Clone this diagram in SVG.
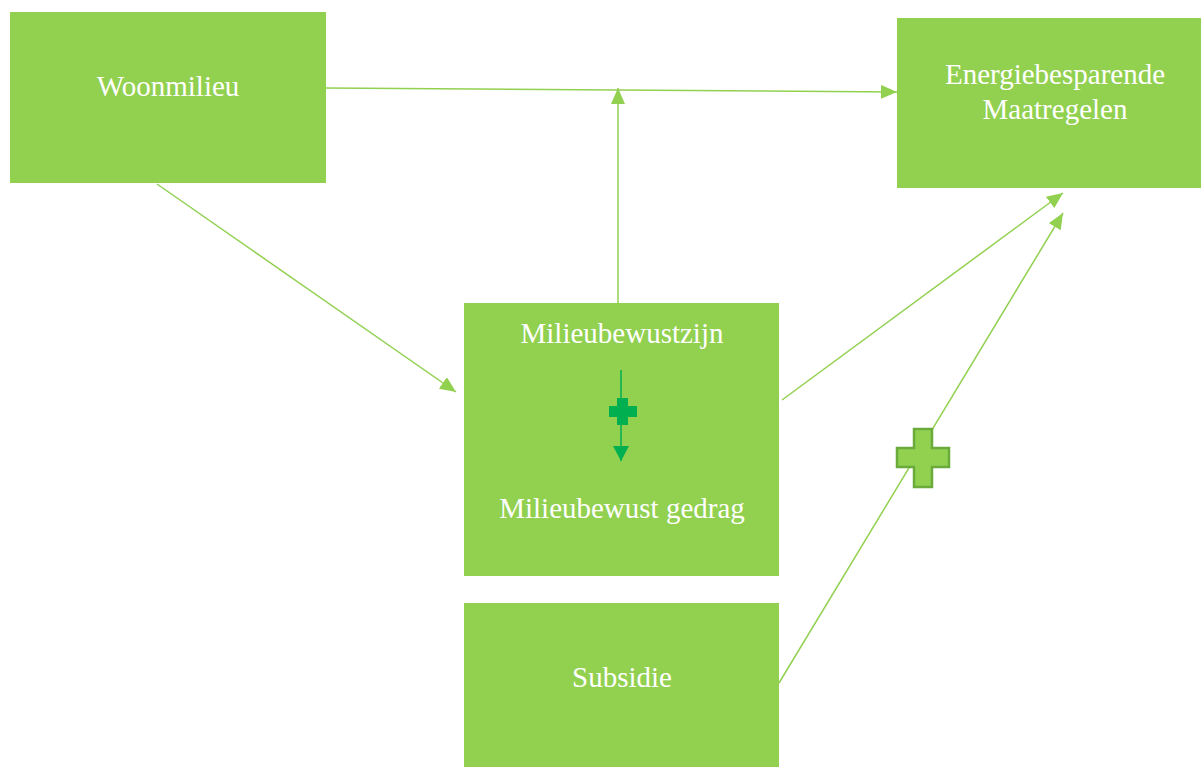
<svg xmlns="http://www.w3.org/2000/svg" width="1201" height="767" viewBox="0 0 1201 767">
<style>
.box{fill:#92D050}
.t{font-family:"Liberation Serif",serif;font-size:29px;fill:#fff;text-anchor:middle}
.c{stroke:#92D050;stroke-width:1.5;fill:none;marker-end:url(#ah)}
</style>
<defs>
<marker id="ah" markerUnits="userSpaceOnUse" markerWidth="18" markerHeight="14" refX="16" refY="7" orient="auto"><path d="M0,0 L16,7 L0,14 Z" fill="#92D050"/></marker>
<marker id="ah2" markerUnits="userSpaceOnUse" markerWidth="18" markerHeight="18" refX="15" refY="8" orient="auto"><path d="M0,0 L15,8 L0,16 Z" fill="#00B050"/></marker>
</defs>
<rect width="1201" height="767" fill="#fff"/>
<g id="connectors">
<line class="c" x1="326" y1="88" x2="897" y2="92"/>
<line class="c" x1="618" y1="303" x2="618" y2="88"/>
<line class="c" x1="157" y1="184" x2="456" y2="392"/>
<line class="c" x1="782" y1="400" x2="1063" y2="193"/>
<line class="c" x1="779" y1="683" x2="1063" y2="213"/>
</g>
<g id="woonmilieu"><rect class="box" x="10" y="12" width="316" height="171"/><text class="t" x="168" y="96">Woonmilieu</text></g>
<g id="energie"><rect class="box" x="897" y="18" width="304" height="170"/><text class="t" x="1055" y="84">Energiebesparende</text><text class="t" x="1055" y="119">Maatregelen</text></g>
<g id="milieu"><rect class="box" x="464" y="303" width="315" height="273"/><text class="t" x="622" y="343">Milieubewustzijn</text><text class="t" x="622" y="518">Milieubewust gedrag</text>
<line x1="621" y1="370" x2="621" y2="461" stroke="#00B050" stroke-width="1.5" marker-end="url(#ah2)"/>
<path d="M617,398 H628 V406 H637 V417 H628 V425 H617 V417 H609 V406 H617 Z" fill="#00B050"/>
</g>
<g id="subsidie"><rect class="box" x="464" y="603" width="315" height="164"/><text class="t" x="622" y="687">Subsidie</text></g>
<g id="plus"><path d="M914,429 H932 V448 H949 V467 H932 V487 H914 V467 H897 V448 H914 Z" fill="#92D050" stroke="#6AAB3C" stroke-width="2.5"/></g>
</svg>
